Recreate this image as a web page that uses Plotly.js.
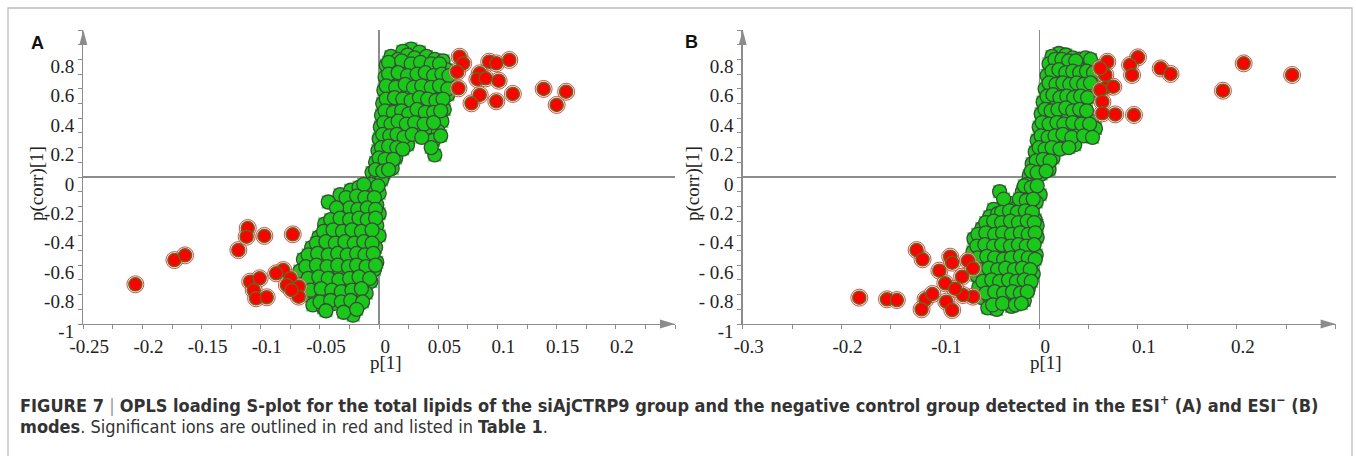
<!DOCTYPE html>
<html>
<head>
<meta charset="utf-8">
<script src="https://cdn.plot.ly/plotly-3.0.1.min.js"></script>
<style>html,body{margin:0;padding:0;background:#fff;}#chart{width:1356px;height:456px;}</style>
</head>
<body>
<div id="chart"></div>
<script>
// ---------- Panel A (ESI+) : non-significant ions (green) ----------
const greenA_x = [0.027,0.020,0.034,
  0.010,0.016,0.024,0.030,0.040,0.047,0.054,
  0.006,0.013,0.021,0.028,0.036,0.043,0.050,0.057,
  0.005,0.011,0.019,0.026,0.033,0.041,0.048,0.055,0.061,
  0.004,0.010,0.017,0.024,0.031,0.038,0.045,0.052,0.058,
  0.003,0.009,0.016,0.022,0.029,0.036,0.043,0.050,0.055,
  0.002,0.008,0.014,0.021,0.028,0.035,0.041,0.048,0.053,
  0.001,0.006,0.012,0.018,0.026,0.033,0.043,0.050,
  0.000,0.005,0.011,0.017,0.024,0.046,
  -0.001,0.004,0.009,0.014,0.047,
  -0.003,0.002,0.007,0.011,
  -0.006,-0.001,0.004,-0.004,0.002,
  -0.033,-0.024,-0.017,-0.011,-0.005,0.000,
  -0.043,-0.022,-0.015,-0.008,-0.002,
  -0.029,-0.021,-0.013,-0.006,0.000,
  -0.046,-0.038,-0.030,-0.022,-0.015,-0.008,-0.002,
  -0.051,-0.043,-0.035,-0.027,-0.019,-0.011,-0.004,0.000,
  -0.057,-0.049,-0.041,-0.033,-0.025,-0.017,-0.010,-0.003,
  -0.064,-0.056,-0.047,-0.039,-0.031,-0.023,-0.015,-0.008,-0.002,
  -0.067,-0.059,-0.050,-0.042,-0.034,-0.026,-0.018,-0.010,-0.004,
  -0.064,-0.055,-0.047,-0.039,-0.030,-0.022,-0.014,-0.007,
  -0.062,-0.053,-0.044,-0.036,-0.027,-0.019,-0.011,
  -0.056,-0.047,-0.038,-0.029,-0.017,
  -0.022,
  // second layer, between the rows
  0.008,0.019,0.027,0.035,0.044,0.051,
  0.008,0.016,0.024,0.032,0.039,0.046,0.053,0.059,
  0.006,0.014,0.022,0.029,0.036,0.044,0.051,0.058,
  0.006,0.013,0.020,0.027,0.034,0.041,0.048,0.054,
  0.005,0.012,0.019,0.025,0.032,0.039,0.046,0.052,
  0.004,0.010,0.016,0.023,0.030,0.038,0.046,
  0.003,0.009,0.015,0.021,0.028,0.036,0.052,
  0.002,0.008,0.015,0.020,0.044,
  0.000,0.005,0.012,
  -0.003,0.003,0.008,
  -0.007,-0.001,-0.013,
  -0.028,-0.019,-0.012,-0.004,
  -0.025,-0.018,-0.010,-0.003,-0.036,
  -0.041,-0.033,-0.025,-0.017,-0.010,-0.003,
  -0.047,-0.039,-0.031,-0.023,-0.015,-0.006,
  -0.053,-0.045,-0.037,-0.029,-0.021,-0.013,-0.006,
  -0.060,-0.052,-0.043,-0.035,-0.027,-0.019,-0.012,-0.005,
  -0.062,-0.053,-0.044,-0.035,-0.026,-0.019,-0.011,-0.003,
  -0.060,-0.051,-0.043,-0.034,-0.025,-0.017,-0.008,
  -0.058,-0.049,-0.040,-0.032,-0.023,-0.015,
  -0.050,-0.041,-0.032,-0.024,-0.014,
  -0.045,-0.030,-0.019];
const greenA_y = [0.87,0.855,0.85,
  0.82,0.80,0.83,0.81,0.82,0.80,0.79,
  0.76,0.74,0.75,0.73,0.75,0.72,0.74,0.73,
  0.68,0.65,0.67,0.64,0.66,0.68,0.64,0.66,0.63,
  0.59,0.57,0.60,0.56,0.58,0.55,0.59,0.57,0.56,
  0.50,0.48,0.51,0.47,0.49,0.51,0.47,0.50,0.46,
  0.42,0.40,0.43,0.39,0.41,0.43,0.39,0.42,0.38,
  0.34,0.31,0.35,0.32,0.33,0.30,0.34,0.31,
  0.26,0.23,0.27,0.24,0.22,0.25,
  0.18,0.15,0.17,0.13,0.15,
  0.10,0.08,0.10,0.06,
  0.03,0.01,0.02,-0.03,-0.02,
  -0.12,-0.09,-0.07,-0.10,-0.08,-0.11,
  -0.17,-0.17,-0.20,-0.16,-0.19,
  -0.25,-0.27,-0.23,-0.28,-0.25,
  -0.32,-0.35,-0.31,-0.34,-0.30,-0.36,-0.33,
  -0.41,-0.38,-0.43,-0.40,-0.42,-0.39,-0.44,-0.40,
  -0.48,-0.51,-0.46,-0.49,-0.52,-0.47,-0.50,-0.48,
  -0.56,-0.59,-0.55,-0.58,-0.54,-0.57,-0.60,-0.55,-0.58,
  -0.64,-0.67,-0.63,-0.66,-0.62,-0.68,-0.64,-0.66,-0.63,
  -0.73,-0.71,-0.75,-0.72,-0.76,-0.70,-0.74,-0.71,
  -0.80,-0.83,-0.79,-0.82,-0.78,-0.81,-0.79,
  -0.87,-0.89,-0.86,-0.88,-0.86,
  -0.94,
  0.78,0.79,0.77,0.78,0.77,0.77,
  0.70,0.71,0.69,0.70,0.71,0.69,0.70,0.69,
  0.62,0.61,0.63,0.61,0.62,0.61,0.62,0.60,
  0.53,0.54,0.53,0.52,0.54,0.53,0.52,0.53,
  0.45,0.44,0.45,0.43,0.46,0.44,0.44,0.45,
  0.37,0.36,0.38,0.36,0.37,0.36,0.37,
  0.29,0.28,0.29,0.27,0.29,0.27,0.28,
  0.20,0.21,0.20,0.19,0.20,
  0.13,0.12,0.12,
  0.05,0.04,0.05,
  -0.05,-0.06,-0.05,
  -0.14,-0.13,-0.14,-0.14,
  -0.21,-0.22,-0.21,-0.22,-0.21,
  -0.29,-0.28,-0.29,-0.28,-0.29,-0.28,
  -0.37,-0.36,-0.37,-0.36,-0.37,-0.36,
  -0.45,-0.44,-0.45,-0.44,-0.45,-0.44,-0.45,
  -0.53,-0.52,-0.53,-0.52,-0.53,-0.52,-0.53,-0.52,
  -0.61,-0.60,-0.61,-0.60,-0.61,-0.60,-0.61,-0.60,
  -0.69,-0.68,-0.69,-0.70,-0.69,-0.68,-0.69,
  -0.77,-0.76,-0.77,-0.78,-0.77,-0.76,
  -0.85,-0.84,-0.85,-0.84,-0.85,
  -0.91,-0.92,-0.90];
// ---------- Panel A : significant ions (red) ----------
const redA_x = [-0.206,-0.173,-0.164,-0.119,-0.111,-0.112,-0.097,-0.073,
  -0.109,-0.101,-0.106,-0.104,-0.095,-0.081,-0.087,-0.075,-0.078,-0.068,-0.068,-0.074,
  0.068,0.071,0.066,0.067,0.093,0.099,0.110,0.085,0.083,0.090,0.101,0.085,0.078,0.099,0.113,0.139,0.158,0.150];
const redA_y = [-0.73,-0.565,-0.533,-0.497,-0.347,-0.406,-0.401,-0.39,
  -0.712,-0.689,-0.769,-0.825,-0.818,-0.633,-0.655,-0.689,-0.735,-0.746,-0.814,-0.769,
  0.818,0.773,0.716,0.603,0.784,0.773,0.796,0.705,0.665,0.671,0.655,0.558,0.501,0.515,0.565,0.599,0.58,0.49];

// ---------- Panel B (ESI-) : non-significant ions (green) ----------
const greenB_x = [0.020,0.013,0.027,0.034,0.041,0.047,
  0.010,0.017,0.024,0.031,0.038,0.045,0.052,0.058,
  0.008,0.014,0.021,0.028,0.035,0.042,0.049,0.056,
  0.006,0.012,0.019,0.026,0.033,0.040,0.047,0.054,
  0.004,0.010,0.017,0.024,0.031,0.038,0.045,
  0.002,0.008,0.015,0.022,0.030,0.038,0.046,0.053,
  0.000,0.006,0.013,0.021,0.029,0.040,0.050,0.057,
  -0.002,0.004,0.011,0.018,0.027,0.036,
  -0.004,0.002,0.008,0.014,
  -0.007,-0.001,0.005,0.010,
  -0.010,-0.004,0.002,-0.012,
  -0.040,-0.017,-0.010,-0.004,0.001,
  -0.030,-0.023,-0.016,-0.009,-0.003,-0.046,
  -0.050,-0.042,-0.034,-0.026,-0.018,-0.010,-0.004,
  -0.058,-0.049,-0.041,-0.033,-0.024,-0.016,-0.008,-0.002,
  -0.066,-0.058,-0.050,-0.041,-0.032,-0.024,-0.015,-0.007,-0.002,
  -0.067,-0.059,-0.051,-0.042,-0.034,-0.025,-0.017,-0.009,-0.003,
  -0.066,-0.057,-0.049,-0.040,-0.032,-0.023,-0.015,-0.007,
  -0.063,-0.055,-0.046,-0.038,-0.029,-0.021,-0.013,-0.006,
  -0.061,-0.052,-0.044,-0.035,-0.027,-0.018,-0.011,
  -0.058,-0.049,-0.040,-0.031,-0.022,-0.015,
  -0.052,-0.043,-0.028,
  // second layer, between the rows
  0.016,0.023,0.030,0.037,0.052,
  0.013,0.020,0.027,0.034,0.041,0.048,0.055,
  0.010,0.017,0.024,0.031,0.038,0.045,0.052,
  0.008,0.014,0.021,0.028,0.035,0.042,0.049,
  0.006,0.012,0.019,0.027,0.034,0.041,0.048,
  0.003,0.010,0.018,0.025,0.034,0.043,0.051,
  0.002,0.009,0.016,0.024,0.033,0.045,0.054,
  0.000,0.006,0.013,0.021,0.030,
  -0.003,0.004,0.011,
  -0.008,-0.002,0.007,
  -0.015,-0.008,-0.002,
  -0.036,-0.020,-0.013,-0.006,
  -0.038,-0.030,-0.022,-0.014,-0.007,
  -0.054,-0.046,-0.038,-0.029,-0.021,-0.012,-0.005,
  -0.062,-0.054,-0.045,-0.037,-0.028,-0.019,-0.011,-0.004,
  -0.063,-0.055,-0.046,-0.038,-0.029,-0.021,-0.013,-0.005,
  -0.062,-0.053,-0.045,-0.036,-0.028,-0.019,-0.011,-0.004,
  -0.060,-0.051,-0.042,-0.034,-0.025,-0.017,-0.009,
  -0.057,-0.048,-0.040,-0.031,-0.023,-0.015,-0.008,
  -0.054,-0.045,-0.036,-0.027,-0.019,-0.012,
  -0.047,-0.037,-0.024,-0.018];
const greenB_y = [0.84,0.82,0.83,0.81,0.80,0.81,
  0.77,0.75,0.78,0.74,0.76,0.73,0.77,0.75,
  0.69,0.66,0.70,0.67,0.69,0.66,0.70,0.68,
  0.60,0.58,0.62,0.57,0.60,0.58,0.61,0.57,
  0.51,0.49,0.53,0.48,0.52,0.49,0.50,
  0.43,0.40,0.44,0.39,0.42,0.40,0.41,0.38,
  0.34,0.31,0.35,0.32,0.30,0.33,0.31,0.33,
  0.25,0.22,0.26,0.23,0.25,0.22,
  0.17,0.14,0.18,0.13,
  0.09,0.06,0.10,0.05,
  0.01,-0.02,0.02,-0.05,
  -0.10,-0.10,-0.13,-0.09,-0.12,
  -0.18,-0.21,-0.17,-0.20,-0.17,-0.22,
  -0.27,-0.25,-0.29,-0.26,-0.28,-0.25,-0.29,
  -0.35,-0.32,-0.36,-0.33,-0.37,-0.34,-0.36,-0.33,
  -0.42,-0.45,-0.41,-0.44,-0.40,-0.45,-0.42,-0.44,-0.41,
  -0.51,-0.49,-0.53,-0.50,-0.54,-0.49,-0.52,-0.50,-0.53,
  -0.59,-0.57,-0.61,-0.58,-0.62,-0.57,-0.60,-0.58,
  -0.67,-0.65,-0.69,-0.66,-0.70,-0.65,-0.68,-0.66,
  -0.75,-0.73,-0.77,-0.74,-0.78,-0.73,-0.76,
  -0.82,-0.85,-0.81,-0.84,-0.81,-0.84,
  -0.89,-0.90,-0.88,
  0.80,0.80,0.79,0.79,0.80,
  0.72,0.73,0.71,0.72,0.71,0.72,0.71,
  0.64,0.63,0.64,0.63,0.64,0.63,0.64,
  0.55,0.56,0.54,0.55,0.54,0.55,0.54,
  0.46,0.45,0.46,0.47,0.45,0.46,0.45,
  0.37,0.36,0.37,0.36,0.37,0.36,0.36,
  0.28,0.27,0.28,0.29,0.27,0.28,0.27,
  0.20,0.19,0.20,0.19,0.20,
  0.11,0.12,0.11,
  0.04,0.03,0.04,
  -0.06,-0.07,-0.06,
  -0.15,-0.15,-0.16,-0.15,
  -0.24,-0.23,-0.24,-0.23,-0.24,
  -0.31,-0.30,-0.31,-0.30,-0.31,-0.30,-0.31,
  -0.39,-0.38,-0.39,-0.38,-0.39,-0.38,-0.39,-0.38,
  -0.47,-0.46,-0.47,-0.46,-0.47,-0.46,-0.47,-0.46,
  -0.55,-0.54,-0.55,-0.56,-0.55,-0.54,-0.55,-0.56,
  -0.63,-0.62,-0.63,-0.62,-0.63,-0.62,-0.63,
  -0.71,-0.70,-0.71,-0.70,-0.71,-0.70,-0.71,
  -0.79,-0.78,-0.79,-0.78,-0.79,-0.78,
  -0.87,-0.86,-0.87,-0.86];
// ---------- Panel B : significant ions (red) ----------
const redB_x = [-0.182,-0.154,-0.144,-0.124,-0.118,-0.115,-0.119,-0.108,-0.101,-0.090,-0.088,-0.095,-0.094,-0.088,-0.078,-0.072,-0.067,-0.067,-0.077,-0.085,
  0.069,0.100,0.092,0.094,0.123,0.133,0.207,0.256,0.186,0.069,0.062,0.067,0.064,0.064,0.077,0.096,0.075,0.062];
const redB_y = [-0.821,-0.832,-0.837,-0.497,-0.56,-0.832,-0.90,-0.796,-0.637,-0.542,-0.583,-0.723,-0.848,-0.905,-0.678,-0.569,-0.621,-0.814,-0.803,-0.76,
  0.784,0.814,0.762,0.694,0.739,0.701,0.773,0.694,0.587,0.614,0.592,0.694,0.512,0.433,0.426,0.422,0.614,0.739];

// ---------- axis ticks ----------
const xTicksA = [-0.25,-0.2,-0.15,-0.1,-0.05,0,0.05,0.1,0.15,0.2];
const xLabelsA = ['-0.25','-0.2','-0.15','-0.1','-0.05','0','0.05','0.1','0.15','0.2'];
const xTicksB = [-0.3,-0.2,-0.1,0,0.1,0.2];
const xLabelsB = ['-0.3','-0.2','-0.1','0','0.1','0.2'];
const yTicks = [-1,-0.8,-0.6,-0.4,-0.2,0,0.2,0.4,0.6,0.8];
const yLabelsA = ['-1','-0.8','-0.6','-0.4','-0.2','0','0.2','0.4','0.6','0.8'];
const yLabelsB = ['-1','- 0.8','- 0.6','- 0.4','- 0.2','0','0.2','0.4','0.6','0.8'];

const GREY = '#8c8c8c';
function pts(x, y, xa, ya) {
  return [
    {x, y, xaxis: xa, yaxis: ya, type: 'scatter', mode: 'markers', hoverinfo: 'skip',
     marker: {symbol: 'square', size: 13, color: '#2fd62f', line: {width: 0}}},
    {x, y, xaxis: xa, yaxis: ya, type: 'scatter', mode: 'markers', hoverinfo: 'skip',
     marker: {symbol: 'circle', size: 14, color: '#19c819', line: {width: 1.3, color: '#3d4a3d'}}}
  ];
}
function sig(x, y, xa, ya) {
  return [
    {x, y, xaxis: xa, yaxis: ya, type: 'scatter', mode: 'markers', hoverinfo: 'skip',
     marker: {symbol: 'circle', size: 17, color: 'rgba(255,215,215,0.6)', line: {width: 1, color: '#d85050'}}},
    {x, y, xaxis: xa, yaxis: ya, type: 'scatter', mode: 'markers', hoverinfo: 'skip',
     marker: {symbol: 'circle', size: 13, color: '#ff0000', line: {width: 1.5, color: '#66661a'}}}
  ];
}
const data = [].concat(
  pts(greenA_x, greenA_y, 'x', 'y'), sig(redA_x, redA_y, 'x', 'y'),
  pts(greenB_x, greenB_y, 'x2', 'y2'), sig(redB_x, redB_y, 'x2', 'y2'));

const tickFont = {family: 'Liberation Serif, Times New Roman, serif', size: 19, color: '#222'};
function xAxis(domain, range, tv, tt, minorStep, anchor) {
  return {domain, range, anchor, showline: true, linecolor: GREY, linewidth: 1.3,
    zeroline: true, zerolinecolor: GREY, zerolinewidth: 1.3, showgrid: false,
    ticks: 'outside', ticklen: 4, tickcolor: GREY, tickwidth: 1,
    tickmode: 'array', tickvals: tv, ticktext: tt, tickfont: tickFont, ticklabelshift: 6, ticklabelstandoff: 1,
    minor: {ticks: 'outside', ticklen: 4, tickcolor: GREY, tickmode: 'linear', tick0: 0, dtick: minorStep, showgrid: false},
    fixedrange: true};
}
function yAxis(domain, tt, anchor) {
  return {domain, range: [-1, 1], anchor, showline: true, linecolor: GREY, linewidth: 1.3,
    zeroline: true, zerolinecolor: GREY, zerolinewidth: 1.3, showgrid: false,
    ticks: 'outside', ticklen: 4, tickcolor: GREY, tickwidth: 1,
    tickmode: 'array', tickvals: yTicks, ticktext: tt, tickfont: tickFont, ticklabelshift: 7,
    minor: {ticks: 'outside', ticklen: 4, tickcolor: GREY, tickmode: 'linear', tick0: 0, dtick: 0.1, showgrid: false},
    fixedrange: true};
}
const W = 1356, H = 456;
const yDom = [1 - 324 / H, 1 - 30 / H];
// pixel -> paper helpers for decorative arrowheads
const PX = v => (v / W).toFixed(5), PY = v => (1 - v / H).toFixed(5);
function arrows(axL, axR) {
  return [
    {type: 'path', xref: 'paper', yref: 'paper', fillcolor: GREY, line: {width: 0},
     path: 'M' + PX(axR - 15) + ',' + PY(319.5) + ' L' + PX(axR) + ',' + PY(324) + ' L' + PX(axR - 15) + ',' + PY(328.5) + ' Z'},
    {type: 'path', xref: 'paper', yref: 'paper', fillcolor: GREY, line: {width: 0},
     path: 'M' + PX(axL - 4) + ',' + PY(45) + ' L' + PX(axL) + ',' + PY(30) + ' L' + PX(axL + 4) + ',' + PY(45) + ' Z'}
  ];
}
const serifTitle = {family: 'Liberation Serif, Times New Roman, serif', size: 19, color: '#222'};
const capFont = {family: 'Liberation Sans Narrow, Arial Narrow, DejaVu Sans Condensed, sans-serif', size: 18, color: '#333'};
const layout = {
  width: W, height: H, margin: {l: 0, r: 0, t: 0, b: 0, autoexpand: false},
  paper_bgcolor: '#fff', plot_bgcolor: 'rgba(0,0,0,0)', showlegend: false,
  xaxis: xAxis([83.3 / W, 675 / W], [-0.25, 0.25], xTicksA, xLabelsA, 0.025, 'y'),
  yaxis: yAxis(yDom, yLabelsA, 'x'),
  xaxis2: xAxis([742.7 / W, 1335.6 / W], [-0.3, 0.3], xTicksB, xLabelsB, 0.05, 'y2'),
  yaxis2: yAxis(yDom, yLabelsB, 'x2'),
  shapes: [].concat(arrows(83.3, 675), arrows(742.7, 1335.6), [
    {type: 'path', xref: 'paper', yref: 'paper',
     path: 'M0.0059,-0.02 L0.0059,' + PY(8) + ' L' + PX(1352) + ',' + PY(8) + ' L' + PX(1352) + ',-0.02',
     line: {color: '#bdbdbd', width: 1.3}}
  ]),
  annotations: [
    {xref: 'paper', yref: 'paper', x: 37 / W, y: 1 - 43 / H, xanchor: 'center', yanchor: 'middle', showarrow: false,
     text: '<b>A</b>', font: {family: 'Liberation Sans, Arial, sans-serif', size: 18, color: '#111'}},
    {xref: 'paper', yref: 'paper', x: 691 / W, y: 1 - 42 / H, xanchor: 'center', yanchor: 'middle', showarrow: false,
     text: '<b>B</b>', font: {family: 'Liberation Sans, Arial, sans-serif', size: 18, color: '#111'}},
    {xref: 'paper', yref: 'paper', x: 37 / W, y: 1 - 184 / H, xanchor: 'center', yanchor: 'middle', showarrow: false,
     textangle: -90, text: 'p(corr)[1]', font: serifTitle},
    {xref: 'paper', yref: 'paper', x: 693 / W, y: 1 - 184 / H, xanchor: 'center', yanchor: 'middle', showarrow: false,
     textangle: -90, text: 'p(corr)[1]', font: serifTitle},
    {xref: 'paper', yref: 'paper', x: 386 / W, y: 1 - 362 / H, xanchor: 'center', yanchor: 'middle', showarrow: false,
     text: 'p[1]', font: serifTitle},
    {xref: 'paper', yref: 'paper', x: 1046 / W, y: 1 - 362 / H, xanchor: 'center', yanchor: 'middle', showarrow: false,
     text: 'p[1]', font: serifTitle},
    {xref: 'paper', yref: 'paper', x: 18 / W, y: 1 - 404 / H, xanchor: 'left', yanchor: 'middle', showarrow: false, align: 'left',
     text: '<b>FIGURE 7</b> <span style="color:#999">|</span> <b>OPLS loading S-plot for the total lipids of the siAjCTRP9 group and the negative control group detected in the ESI<sup>+</sup> (A) and ESI<sup>\u2212</sup> (B)</b>',
     font: capFont},
    {xref: 'paper', yref: 'paper', x: 18 / W, y: 1 - 426 / H, xanchor: 'left', yanchor: 'middle', showarrow: false, align: 'left',
     text: '<b>modes</b>. Significant ions are outlined in red and listed in <b>Table 1</b>.',
     font: capFont}
  ]
};
Plotly.newPlot('chart', data, layout, {displayModeBar: false, staticPlot: true});
</script>
</body>
</html>
